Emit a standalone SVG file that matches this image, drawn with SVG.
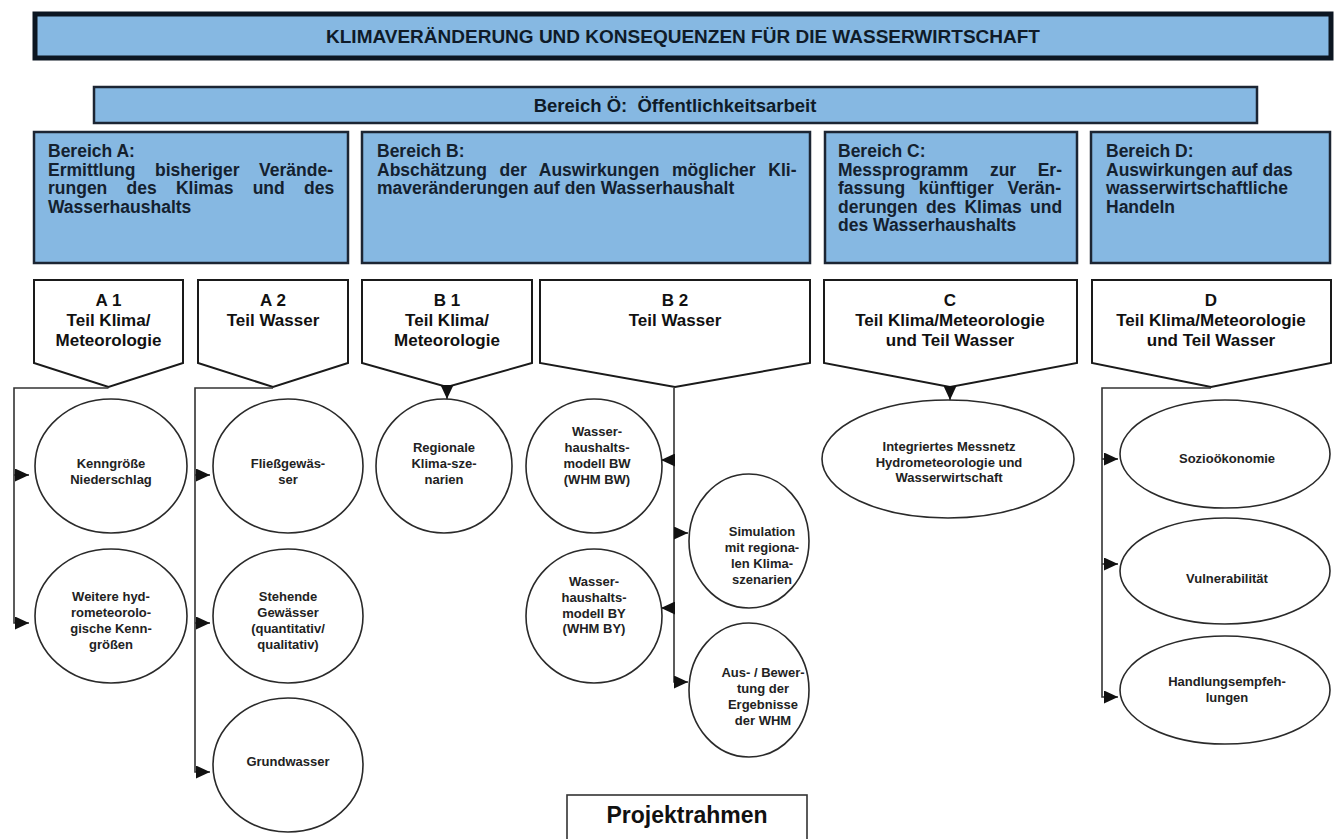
<svg xmlns="http://www.w3.org/2000/svg" width="1335" height="839" viewBox="0 0 1335 839">
<defs>
<style>
text { font-family: "Liberation Sans", Arial, sans-serif; font-weight: bold; }
.blue { fill: #86b8e2; stroke: #1c2533; stroke-width: 2.5; }
.title { stroke: #0c1622; stroke-width: 5; }
.pent { fill: #fff; stroke: #1a1a1a; stroke-width: 2; }
.circ { fill: #fff; stroke: #2a2a2a; stroke-width: 1.6; }
.conn { fill: none; stroke: #333; stroke-width: 1.6; }
.hd { font-size: 19px; fill: #0f1b28; text-anchor: middle; }
.bt { font-size: 17.5px; fill: #14212f; }
.pt { font-size: 17px; fill: #111; text-anchor: middle; }
.ct { font-size: 13px; fill: #222; text-anchor: middle; }
</style>
<marker id="ah" markerUnits="userSpaceOnUse" markerWidth="14" markerHeight="13" refX="14" refY="6.5" orient="auto">
<path d="M0,0 L14,6.5 L0,13 z" fill="#111"/>
</marker>
</defs>
<rect width="1335" height="839" fill="#fff"/>

<g id="title">
<rect class="blue title" x="35" y="14" width="1296" height="44"/>
<text class="hd" x="683" y="43">KLIMAVERÄNDERUNG UND KONSEQUENZEN FÜR DIE WASSERWIRTSCHAFT</text>
</g>

<g id="bereich-oe">
<rect class="blue" x="94" y="87" width="1163" height="36"/>
<text class="hd" x="675" y="111.5" style="font-size:18.5px">Bereich Ö:&#160; Öffentlichkeitsarbeit</text>
</g>

<g id="bereich-a">
<rect class="blue" x="34" y="132" width="314" height="131"/>
<text class="bt" x="48" y="157">Bereich A:</text>
<text class="bt" x="48" y="175.5" word-spacing="14.6">Ermittlung bisheriger Verände-</text>
<text class="bt" x="48" y="194" word-spacing="14.4">rungen des Klimas und des</text>
<text class="bt" x="48" y="212.5">Wasserhaushalts</text>
</g>

<g id="bereich-b">
<rect class="blue" x="362" y="132" width="448" height="131"/>
<text class="bt" x="377" y="157">Bereich B:</text>
<text class="bt" x="377" y="175.5" word-spacing="7.8">Abschätzung der Auswirkungen möglicher Kli-</text>
<text class="bt" x="377" y="194">maveränderungen auf den Wasserhaushalt</text>
</g>

<g id="bereich-c">
<rect class="blue" x="825" y="132" width="252" height="131"/>
<text class="bt" x="838" y="157">Bereich C:</text>
<text class="bt" x="838" y="175.5" word-spacing="16.7">Messprogramm zur Er-</text>
<text class="bt" x="838" y="194" word-spacing="8.9">fassung künftiger Verän-</text>
<text class="bt" x="838" y="212.5" word-spacing="3.4">derungen des Klimas und</text>
<text class="bt" x="838" y="231">des Wasserhaushalts</text>
</g>

<g id="bereich-d">
<rect class="blue" x="1091" y="132" width="239" height="131"/>
<text class="bt" x="1106" y="157">Bereich D:</text>
<text class="bt" x="1106" y="175.5">Auswirkungen auf das</text>
<text class="bt" x="1106" y="194">wasserwirtschaftliche</text>
<text class="bt" x="1106" y="212.5">Handeln</text>
</g>

<g id="a1">
<path class="pent" d="M34,280 H183 V363 L108.5,387 L34,363 Z"/>
<text class="pt" x="108.5" y="306">A 1</text>
<text class="pt" x="108.5" y="326">Teil Klima/</text>
<text class="pt" x="108.5" y="346">Meteorologie</text>
</g>
<g id="a2">
<path class="pent" d="M198,280 H348 V363 L273,387 L198,363 Z"/>
<text class="pt" x="273" y="306">A 2</text>
<text class="pt" x="273" y="326">Teil Wasser</text>
</g>
<g id="b1">
<path class="pent" d="M362,280 H532 V363 L447,387 L362,363 Z"/>
<text class="pt" x="447" y="306">B 1</text>
<text class="pt" x="447" y="326">Teil Klima/</text>
<text class="pt" x="447" y="346">Meteorologie</text>
</g>
<g id="b2">
<path class="pent" d="M540,280 H810 V363 L675,387 L540,363 Z"/>
<text class="pt" x="675" y="306">B 2</text>
<text class="pt" x="675" y="326">Teil Wasser</text>
</g>
<g id="c">
<path class="pent" d="M824,280 H1077 V363 L950,387 L824,363 Z"/>
<text class="pt" x="950" y="306">C</text>
<text class="pt" x="950" y="326">Teil Klima/Meteorologie</text>
<text class="pt" x="950" y="346">und Teil Wasser</text>
</g>
<g id="d">
<path class="pent" d="M1092,280 H1331 V363 L1211,387 L1092,363 Z"/>
<text class="pt" x="1211" y="306">D</text>
<text class="pt" x="1211" y="326">Teil Klima/Meteorologie</text>
<text class="pt" x="1211" y="346">und Teil Wasser</text>
</g>

<g id="connectors">
<path class="conn" d="M108.5,388 H14 V623 H29" marker-end="url(#ah)"/>
<path class="conn" d="M14,475 H29" marker-end="url(#ah)"/>
<path class="conn" d="M273,388 H195 V772 H210" marker-end="url(#ah)"/>
<path class="conn" d="M195,475 H210" marker-end="url(#ah)"/>
<path class="conn" d="M195,623 H210" marker-end="url(#ah)"/>
<path class="conn" d="M447,386 V399" marker-end="url(#ah)"/>
<path class="conn" d="M674,388 V682 H688" marker-end="url(#ah)"/>
<path class="conn" d="M674,460 H661" marker-end="url(#ah)"/>
<path class="conn" d="M674,608 H661" marker-end="url(#ah)"/>
<path class="conn" d="M674,533 H688" marker-end="url(#ah)"/>
<path class="conn" d="M950,386 V400" marker-end="url(#ah)"/>
<path class="conn" d="M1211,388 H1102 V697 H1118" marker-end="url(#ah)"/>
<path class="conn" d="M1102,459 H1118" marker-end="url(#ah)"/>
<path class="conn" d="M1102,564 H1118" marker-end="url(#ah)"/>
</g>

<g id="kenngroesse">
<ellipse class="circ" cx="111" cy="466" rx="76" ry="67"/>
<text class="ct" x="111" y="468">Kenngröße</text>
<text class="ct" x="111" y="484">Niederschlag</text>
</g>
<g id="weitere">
<ellipse class="circ" cx="111" cy="616" rx="76" ry="67"/>
<text class="ct" x="111" y="601">Weitere hyd-</text>
<text class="ct" x="111" y="617">rometeorolo-</text>
<text class="ct" x="111" y="633">gische Kenn-</text>
<text class="ct" x="111" y="649">größen</text>
</g>
<g id="fliess">
<ellipse class="circ" cx="288" cy="466" rx="75" ry="67"/>
<text class="ct" x="288" y="468">Fließgewäs-</text>
<text class="ct" x="288" y="484">ser</text>
</g>
<g id="stehende">
<ellipse class="circ" cx="288" cy="616" rx="75" ry="67"/>
<text class="ct" x="288" y="601">Stehende</text>
<text class="ct" x="288" y="617">Gewässer</text>
<text class="ct" x="288" y="633">(quantitativ/</text>
<text class="ct" x="288" y="649">qualitativ)</text>
</g>
<g id="grundwasser">
<ellipse class="circ" cx="288" cy="765" rx="75" ry="67"/>
<text class="ct" x="288" y="766">Grundwasser</text>
</g>
<g id="regionale">
<ellipse class="circ" cx="444" cy="466" rx="68" ry="67"/>
<text class="ct" x="444" y="452">Regionale</text>
<text class="ct" x="444" y="468">Klima-sze-</text>
<text class="ct" x="444" y="484">narien</text>
</g>
<g id="whm-bw">
<ellipse class="circ" cx="594" cy="466" rx="68" ry="67"/>
<text class="ct" x="597" y="436">Wasser-</text>
<text class="ct" x="597" y="452">haushalts-</text>
<text class="ct" x="597" y="468">modell BW</text>
<text class="ct" x="597" y="484">(WHM BW)</text>
</g>
<g id="whm-by">
<ellipse class="circ" cx="594" cy="616" rx="68" ry="67"/>
<text class="ct" x="594" y="586">Wasser-</text>
<text class="ct" x="594" y="602">haushalts-</text>
<text class="ct" x="594" y="618">modell BY</text>
<text class="ct" x="594" y="633">(WHM BY)</text>
</g>
<g id="simulation">
<ellipse class="circ" cx="749" cy="541" rx="60" ry="67"/>
<text class="ct" x="762" y="536">Simulation</text>
<text class="ct" x="762" y="552">mit regiona-</text>
<text class="ct" x="762" y="568">len Klima-</text>
<text class="ct" x="762" y="584">szenarien</text>
</g>
<g id="bewertung">
<ellipse class="circ" cx="749" cy="690" rx="60" ry="67"/>
<text class="ct" x="763" y="677">Aus- / Bewer-</text>
<text class="ct" x="763" y="693">tung der</text>
<text class="ct" x="763" y="709">Ergebnisse</text>
<text class="ct" x="763" y="725">der WHM</text>
</g>
<g id="messnetz">
<ellipse class="circ" cx="948" cy="459" rx="126" ry="59"/>
<text class="ct" x="949" y="451">Integriertes Messnetz</text>
<text class="ct" x="949" y="467">Hydrometeorologie und</text>
<text class="ct" x="949" y="482">Wasserwirtschaft</text>
</g>
<g id="sozio">
<ellipse class="circ" cx="1225" cy="454" rx="105" ry="54"/>
<text class="ct" x="1227" y="463">Sozioökonomie</text>
</g>
<g id="vulnerabilitaet">
<ellipse class="circ" cx="1225" cy="571" rx="105" ry="53"/>
<text class="ct" x="1227" y="583">Vulnerabilität</text>
</g>
<g id="handlung">
<ellipse class="circ" cx="1225" cy="690" rx="105" ry="54"/>
<text class="ct" x="1227" y="686">Handlungsempfeh-</text>
<text class="ct" x="1227" y="702">lungen</text>
</g>

<g id="projektrahmen">
<rect x="567" y="795" width="240" height="60" fill="#fff" stroke="#333" stroke-width="1.6"/>
<text x="687" y="823" style="font-size:23px;fill:#111;text-anchor:middle">Projektrahmen</text>
</g>
</svg>
